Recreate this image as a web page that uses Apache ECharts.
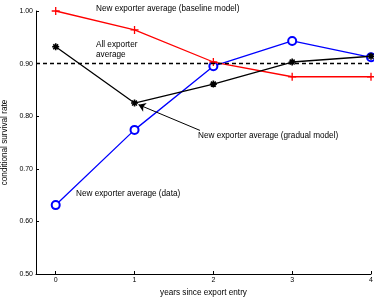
<!DOCTYPE html>
<html>
<head>
<meta charset="utf-8">
<script src="https://cdn.jsdelivr.net/npm/echarts@6/dist/echarts.min.js"></script>
<style>
  html, body { margin: 0; padding: 0; background: #fff; }
  #chart { width: 374px; height: 297px; }
</style>
</head>
<body>
<div id="chart"></div>
<script>
  // years since export entry
  var years = [0, 1, 2, 3, 4];
  // conditional survival rates
  var baselineModel = [1.000, 0.964, 0.903, 0.875, 0.875];
  var gradualModel = [0.932, 0.825, 0.861, 0.903, 0.914];
  var dataAvg = [0.631, 0.774, 0.895, 0.943, 0.912];
  var allExporterAvg = 0.895;
  var yTicks = [0.5, 0.6, 0.7, 0.8, 0.9, 1.0];

  function pairs(vals) {
    return years.map(function (x, i) { return [x, vals[i]]; });
  }

  var plusPath = 'path://M0,5L10,5M5,0L5,10';
  var starPath = 'path://M0,5L10,5M5,0L5,10M1.5,1.5L8.5,8.5M8.5,1.5L1.5,8.5';
  var font = '"Liberation Sans", Arial, sans-serif';

  var chart = echarts.init(document.getElementById('chart'));
  var option = {
    animation: false,
    backgroundColor: '#fff',
    textStyle: { fontFamily: font },
    grid: { left: 36, right: 3, top: 11, bottom: 23, outerBoundsMode: 'none', containLabel: false },
    xAxis: {
      type: 'value',
      min: -0.25,
      max: 4,
      name: 'years since export entry',
      nameLocation: 'middle',
      nameGap: 13,
      nameTextStyle: { fontSize: 8.2, color: '#000', fontFamily: font },
      axisLine: { onZero: false, lineStyle: { color: '#000', width: 1 } },
      axisTick: { inside: true, length: 3, customValues: years, lineStyle: { color: '#000' } },
      axisLabel: { customValues: years, fontSize: 7, color: '#000', margin: 3, fontFamily: font },
      splitLine: { show: false }
    },
    yAxis: {
      type: 'value',
      min: 0.5,
      max: 1.0,
      name: 'conditional survival rate',
      nameLocation: 'middle',
      nameGap: 24,
      nameTextStyle: { fontSize: 8.2, color: '#000', fontFamily: font },
      axisLine: { show: true, onZero: false, lineStyle: { color: '#000', width: 1 } },
      axisTick: { inside: true, length: 3, customValues: yTicks, lineStyle: { color: '#000' } },
      axisLabel: {
        customValues: yTicks, fontSize: 7, color: '#000', margin: 3, fontFamily: font,
        formatter: function (v) { return v.toFixed(2); }
      },
      splitLine: { show: false }
    },
    series: [
      {
        name: 'New exporter average (baseline model)',
        type: 'line',
        data: pairs(baselineModel),
        symbol: plusPath,
        symbolSize: 8,
        color: '#ff0000',
        lineStyle: { color: '#ff0000', width: 1.3 },
        itemStyle: { color: '#ff0000', borderColor: '#ff0000', borderWidth: 1.3 },
        z: 3
      },
      {
        name: 'New exporter average (gradual model)',
        type: 'line',
        data: pairs(gradualModel),
        symbol: starPath,
        symbolSize: 7,
        color: '#000',
        lineStyle: { color: '#000', width: 1.3 },
        itemStyle: { color: '#000', borderColor: '#000', borderWidth: 1.6 },
        markLine: {
          silent: true,
          symbol: 'none',
          label: { show: false },
          lineStyle: { color: '#000', type: [4, 3], width: 1.3 },
          data: [{ yAxis: allExporterAvg }]
        },
        z: 4
      },
      {
        name: 'New exporter average (data)',
        type: 'line',
        data: pairs(dataAvg),
        symbol: 'emptyCircle',
        symbolSize: 8,
        color: '#0000ff',
        lineStyle: { color: '#0000ff', width: 1.3 },
        itemStyle: { color: '#0000ff', borderWidth: 1.3 },
        z: 2
      },
      {
        // arrow pointing from the label to the gradual model's year-1 point
        type: 'lines',
        coordinateSystem: 'cartesian2d',
        silent: true,
        symbol: ['none', 'arrow'],
        symbolSize: 7,
        lineStyle: { color: '#000', width: 1, opacity: 1 },
        data: [{ coords: [[1.83, 0.773], [1.05, 0.822]] }],
        z: 5
      }
    ],
    graphic: [
      { type: 'text', left: 96, top: 5, style: { text: 'New exporter average (baseline model)', fontSize: 8.2, fill: '#000', fontFamily: font } },
      { type: 'text', left: 96, top: 40, style: { text: 'All exporter\naverage', fontSize: 8.2, lineHeight: 9.5, fill: '#000', fontFamily: font } },
      { type: 'text', left: 198, top: 132, style: { text: 'New exporter average (gradual model)', fontSize: 8.2, fill: '#000', fontFamily: font } },
      { type: 'text', left: 76, top: 190, style: { text: 'New exporter average (data)', fontSize: 8.2, fill: '#000', fontFamily: font } }
    ]
  };
  chart.setOption(option);
</script>
</body>
</html>
